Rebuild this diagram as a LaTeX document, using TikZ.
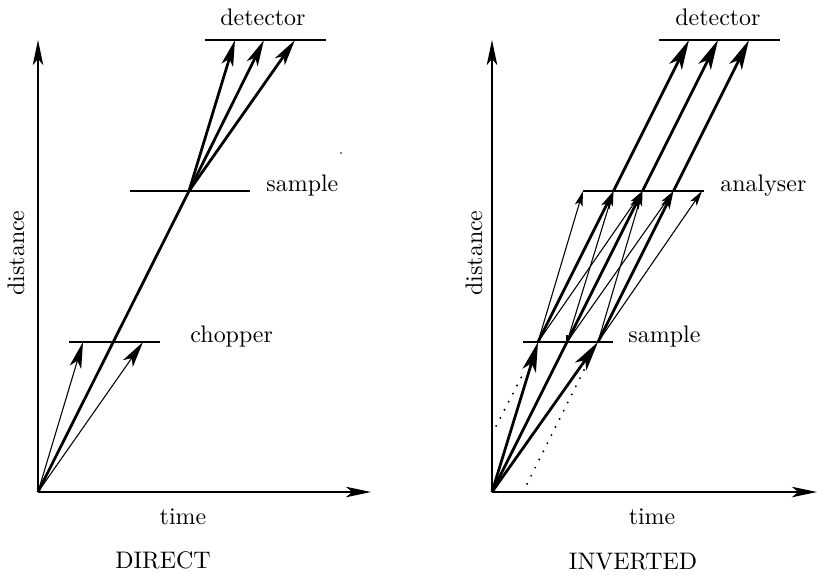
\documentclass[tikz,border=0pt]{standalone}
\usetikzlibrary{arrows.meta}
\begin{document}
\begin{tikzpicture}[x=0.418pt,y=-0.418pt,
  axis/.style={line width=0.6pt,-{Stealth[length=10.5pt,width=4.4pt,inset=2.6pt]}},
  level/.style={line width=0.6pt},
  thickray/.style={line width=1.15pt},
  thinray/.style={line width=0.45pt},
  bighead/.style={-{Stealth[length=11pt,width=5pt,inset=2.8pt]}},
  hugehead/.style={-{Stealth[length=12.5pt,width=5.8pt,inset=3.2pt]}},
  midhead/.style={-{Stealth[length=7.5pt,width=3.8pt,inset=1.8pt]}},
  smallhead/.style={-{Stealth[length=6.3pt,width=3.3pt,inset=1.5pt]}},
  dotline/.style={line width=0.9pt,line cap=round,dash pattern=on 0pt off 3.8pt},
  lbl/.style={inner sep=0pt}]
\useasboundingbox (0,0) rectangle (817,574);

% ---------------- DIRECT ----------------
\coordinate (O1) at (38,492);
\coordinate (Y1) at (38,40);
\coordinate (X1) at (371,492);
\coordinate (chA) at (69,342);  \coordinate (chB) at (160,342);
\coordinate (saA) at (130,191); \coordinate (saB) at (250,191);
\coordinate (deA) at (205,40);  \coordinate (deB) at (326,40);
\coordinate (P1) at (189,191);
\coordinate (C1) at (83,342);   \coordinate (C2) at (143,342);
\coordinate (D1) at (235,40);   \coordinate (D2) at (264,40);  \coordinate (D3) at (295,40);

\draw[axis] (O1) -- (Y1);
\draw[axis] (O1) -- (X1);
\draw[level] (chA) -- (chB);
\draw[level] (saA) -- (saB);
\draw[level] (deA) -- (deB);

\draw[thinray,bighead] (O1) -- (C1);
\draw[thinray,bighead] (O1) -- (C2);
\draw[thickray] (O1) -- (P1);
\draw[thickray,bighead] (P1) -- (D1);
\draw[thickray,bighead] (P1) -- (D2);
\draw[thickray,bighead] (P1) -- (D3);

\fill (341,153) circle (0.9);

\node[lbl,anchor=base] (detL) at (263,25) {detector};
\node[lbl,anchor=base west] (sampL) at (266,191) {sample};
\node[lbl,anchor=base west] (chopL) at (190,342) {chopper};
\node[lbl,anchor=base] (timeL) at (183,524) {time};
\node[lbl,anchor=base] (dirL) at (163,568) {DIRECT};
\node[lbl,rotate=90] (distL) at (16,253) {distance};

% ---------------- INVERTED ----------------
\coordinate (O2) at (492,492);
\coordinate (Y2) at (492,40);
\coordinate (X2) at (817,492);
\coordinate (smA) at (523,342); \coordinate (smB) at (613,342);
\coordinate (anA) at (583,191); \coordinate (anB) at (704,191);
\coordinate (dtA) at (659,40);  \coordinate (dtB) at (780,40);
\coordinate (S1) at (538,342);  \coordinate (S2) at (567,342);  \coordinate (S3) at (598,342);
\coordinate (AL) at (583,191);  \coordinate (A1) at (613.5,191); \coordinate (A2) at (642.5,191);
\coordinate (A3) at (673.5,191); \coordinate (AR) at (702,191);
\coordinate (E1) at (689,40);   \coordinate (E2) at (718,40);   \coordinate (E3) at (749,40);
\coordinate (T1) at (492,434);  \coordinate (T2) at (524,372);
\coordinate (T3) at (523,492);  \coordinate (T4) at (585,368);
\coordinate (K1) at (567,335);

\draw[axis] (O2) -- (Y2);
\draw[axis] (O2) -- (X2);
\draw[level] (smA) -- (smB);
\draw[level] (anA) -- (anB);
\draw[level] (dtA) -- (dtB);

\draw[dotline] (T1) -- (T2);
\draw[dotline] (T3) -- (T4);

\draw[thickray,hugehead] (O2) -- (S1);
\draw[thickray] (O2) -- (S2);
\draw[thickray,hugehead] (O2) -- (S3);
\draw[thinray] (K1) -- (S2);

% scattered (thin) rays to the analyser
\draw[thinray,smallhead] (S1) -- (AL);
\draw[thinray,smallhead] (S1) -- (A2);
\draw[thinray,smallhead] (S2) -- (A1);
\draw[thinray,smallhead] (S2) -- (A3);
\draw[thinray,smallhead] (S3) -- (A2);
\draw[thinray,smallhead] (S3) -- (AR);

% elastic (thick) rays
\draw[thickray,midhead] (S1) -- (A1);
\draw[thickray,midhead] (S2) -- (A2);
\draw[thickray,midhead] (S3) -- (A3);
\draw[thickray,hugehead] (A1) -- (E1);
\draw[thickray,hugehead] (A2) -- (E2);
\draw[thickray,hugehead] (A3) -- (E3);

\node[lbl,anchor=base] (detR) at (718,25) {detector};
\node[lbl,anchor=base west] (anaR) at (720,191) {analyser};
\node[lbl,anchor=base west] (sampR) at (628,342) {sample};
\node[lbl,anchor=base] (timeR) at (652,524) {time};
\node[lbl,anchor=base] (invR) at (633,569) {INVERTED};
\node[lbl,rotate=90] (distR) at (474,253) {distance};
\end{tikzpicture}
\end{document}
